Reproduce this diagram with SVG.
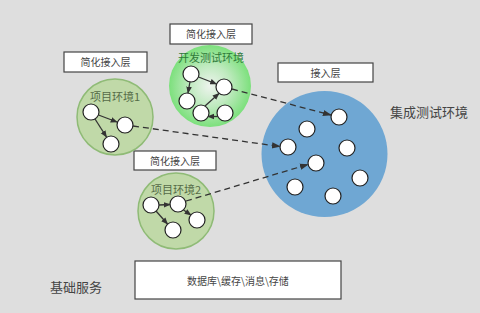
<svg xmlns="http://www.w3.org/2000/svg" width="480" height="313" viewBox="0 0 480 313">
<defs>
<radialGradient id="devg" cx="0.5" cy="0.5" r="0.5">
<stop offset="0" stop-color="#eef4ee"/>
<stop offset="0.5" stop-color="#bfeabf"/>
<stop offset="1" stop-color="#7ce07c"/>
</radialGradient>
<marker id="ah" viewBox="0 0 10 10" refX="9" refY="5" markerWidth="7" markerHeight="7" orient="auto" markerUnits="userSpaceOnUse">
<path d="M0,1 L10,5 L0,9 z" fill="#333"/>
</marker>
<marker id="ahd" viewBox="0 0 10 10" refX="9" refY="5" markerWidth="9" markerHeight="9" orient="auto" markerUnits="userSpaceOnUse">
<path d="M0,1.5 L10,5 L0,8.5 z" fill="#333"/>
</marker>
</defs>
<style>
.lbl{fill:#fff;stroke:#444;stroke-width:1.2}
.lt{font-family:"Noto Sans CJK SC","Noto Sans",sans-serif;font-size:10px;fill:#444;text-anchor:middle}
.big{font-family:"Noto Sans CJK SC","Noto Sans",sans-serif;font-size:13px;fill:#444}
.env{font-family:"Noto Sans CJK SC","Noto Sans",sans-serif;font-size:11px;text-anchor:middle}
.proj{fill:#c0d9a8;stroke:#8fbb76;stroke-width:1.5}
.n{fill:#fff;stroke:#222;stroke-width:1.2}
.e{stroke:#333;stroke-width:1.3;fill:none;marker-end:url(#ah)}
.d{stroke:#333;stroke-width:1.3;fill:none;stroke-dasharray:6,4;marker-end:url(#ahd)}
</style>
<rect width="480" height="313" fill="#dedede"/>

<g id="label-top">
<rect class="lbl" x="170" y="24" width="82" height="20"/>
<text class="lt" x="211" y="38">简化接入层</text>
</g>
<g id="label-left">
<rect class="lbl" x="64" y="52" width="83" height="20"/>
<text class="lt" x="105.5" y="66">简化接入层</text>
</g>
<g id="label-mid">
<rect class="lbl" x="134" y="151" width="82" height="19"/>
<text class="lt" x="175" y="164.5">简化接入层</text>
</g>
<g id="label-integ">
<rect class="lbl" x="278" y="63" width="95" height="19"/>
<text class="lt" x="325.5" y="76.5">接入层</text>
</g>

<g id="project1">
<circle class="proj" cx="115" cy="117" r="38"/>
<text class="env" x="115" y="101" fill="#556b47">项目环境1</text>
<circle class="n" cx="91" cy="112" r="8"/>
<circle class="n" cx="125" cy="125" r="8"/>
<circle class="n" cx="111" cy="144" r="8"/>
</g>

<g id="devtest">
<circle cx="210" cy="86" r="41" fill="url(#devg)"/>
<text class="env" x="211" y="62" fill="#2f7a3a">开发测试环境</text>
<circle class="n" cx="191" cy="74" r="8"/>
<circle class="n" cx="224" cy="87" r="8"/>
<circle class="n" cx="187" cy="101" r="8"/>
<circle class="n" cx="201" cy="113" r="8"/>
<circle class="n" cx="225" cy="113" r="8"/>
</g>

<g id="project2">
<circle class="proj" cx="176" cy="211" r="38"/>
<text class="env" x="176" y="194" fill="#556b47">项目环境2</text>
<circle class="n" cx="151" cy="205" r="8"/>
<circle class="n" cx="178" cy="204" r="8"/>
<circle class="n" cx="197" cy="220" r="8"/>
<circle class="n" cx="173" cy="230" r="8"/>
</g>

<g id="integration">
<circle cx="324.5" cy="154" r="63" fill="#6fa7d3"/>
<circle class="n" cx="339" cy="117" r="8"/>
<circle class="n" cx="307" cy="129" r="8"/>
<circle class="n" cx="288" cy="147" r="8"/>
<circle class="n" cx="347" cy="148" r="8"/>
<circle class="n" cx="316" cy="163" r="8"/>
<circle class="n" cx="360" cy="178" r="8"/>
<circle class="n" cx="295" cy="187" r="8"/>
<circle class="n" cx="333" cy="196" r="8"/>
<text class="big" x="390" y="117">集成测试环境</text>
</g>

<g id="base">
<text class="big" x="50" y="292">基础服务</text>
<rect class="lbl" x="135" y="261" width="206" height="38"/>
<text class="lt" x="238" y="284.5">数据库\缓存\消息\存储</text>
</g>

<g id="connectors">
<line class="e" x1="98.5" y1="115" x2="117" y2="122"/>
<line class="e" x1="95" y1="119" x2="106.5" y2="137"/>
<line class="e" x1="198.5" y1="77" x2="216.5" y2="84"/>
<line class="e" x1="190" y1="81.5" x2="188" y2="93"/>
<line class="e" x1="205" y1="106" x2="219" y2="93.5"/>
<line class="e" x1="218" y1="116.5" x2="208" y2="116.5"/>
<line class="e" x1="159" y1="205" x2="170" y2="204.5"/>
<line class="e" x1="156" y1="211" x2="167.5" y2="224"/>
<line class="e" x1="183.5" y1="210" x2="191" y2="215"/>
<line class="d" x1="232" y1="89" x2="331" y2="115"/>
<line class="d" x1="133" y1="126" x2="280" y2="146.5"/>
<line class="d" x1="186" y1="201" x2="308" y2="164.5"/>
</g>
</svg>
